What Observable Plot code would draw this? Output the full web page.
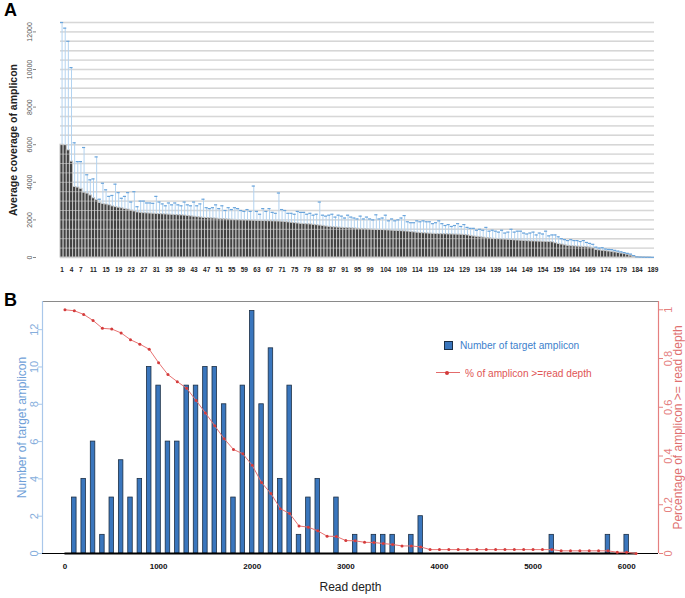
<!DOCTYPE html>
<html><head><meta charset="utf-8">
<script src="https://cdn.jsdelivr.net/npm/d3@7"></script>
<script src="https://cdn.jsdelivr.net/npm/@observablehq/plot@0.6"></script>
<style>
body{margin:0;background:#fff;font-family:"Liberation Sans",Arial,sans-serif;}
#wrap{position:relative;width:685px;height:598px;overflow:hidden;background:#fff;}
#a,#b1,#b2{position:absolute;left:0;}
#a{top:0;} #b1,#b2{top:280px;}
.lbl{position:absolute;font-weight:bold;font-size:18px;font-family:"Liberation Sans",Arial,sans-serif;}
.leg{position:absolute;font-family:"Liberation Sans",Arial,sans-serif;font-size:11.5px;white-space:nowrap;line-height:14px;transform:scaleX(0.88);transform-origin:0 50%;}
</style></head><body>
<div id="wrap">
  <div id="a"></div><div id="b1"></div><div id="b2"></div>
  <div class="lbl" style="left:4px;top:0px">A</div>
  <div class="lbl" style="left:4px;top:290px">B</div>
  <div style="position:absolute;left:444px;top:341px;width:7px;height:7px;background:#3a76bd;border:1px solid #1c2f45"></div>
  <div class="leg" style="left:460px;top:338px;color:#3d7fcc">Number of target amplicon</div>
  <div style="position:absolute;left:436px;top:372px;width:24px;height:1px;background:#e36b6b"></div>
  <div style="position:absolute;left:445px;top:370.5px;width:4px;height:4px;border-radius:50%;background:#d33b3b"></div>
  <div class="leg" style="left:465px;top:366px;color:#e05555">% of amplicon &gt;=read depth</div>
</div>
<script>
// ---------- Panel A data ----------
const ampliconRank = d3.range(1, 190);
const meanCoverage = [
  6000, 5980, 5700, 5100, 3750, 3720, 3650, 3450, 3400, 3300,
  3150, 3050, 2900, 2850, 2820, 2780, 2720, 2680, 2650, 2620,
  2580, 2550, 2500, 2450, 2400, 2380, 2360, 2350, 2340, 2330,
  2320, 2310, 2300, 2290, 2280, 2270, 2260, 2250, 2240, 2230,
  2210, 2190, 2170, 2150, 2130, 2110, 2100, 2090, 2080, 2070,
  2050, 2040, 2030, 2020, 2010, 2000, 1990, 1980, 1975, 1970,
  1965, 1960, 1950, 1945, 1940, 1935, 1930, 1925, 1920, 1915,
  1905, 1890, 1870, 1850, 1830, 1810, 1790, 1780, 1770, 1760,
  1740, 1720, 1700, 1680, 1650, 1630, 1610, 1600, 1590, 1580,
  1570, 1560, 1550, 1540, 1530, 1520, 1510, 1500, 1490, 1480,
  1470, 1465, 1460, 1450, 1440, 1430, 1420, 1410, 1400, 1390,
  1380, 1360, 1340, 1320, 1300, 1290, 1280, 1270, 1260, 1250,
  1245, 1240, 1235, 1230, 1225, 1220, 1215, 1210, 1200, 1180,
  1150, 1120, 1100, 1080, 1060, 1040, 1020, 1000, 990, 980,
  965, 955, 945, 930, 915, 905, 895, 885, 870, 860,
  855, 850, 845, 840, 835, 830, 810, 760, 720, 690,
  650, 620, 600, 590, 580, 570, 560, 550, 530, 500,
  400, 380, 360, 340, 320, 300, 270, 240, 210, 180,
  150, 100, 50, 10, 5, 3, 2, 1, 0
];
const errorTop = [
  12500, 12200, 11500, 10100, 6100, 5100, 5100, 5850, 4400, 4130,
  4180, 5350, 3100, 3950, 3600, 3250, 3300, 3900, 3450, 3150,
  3250, 3450, 2950, 3500, 2700, 3000, 3000, 2900, 2900, 2880,
  3250, 2950, 2850, 2750, 2900, 2800, 2900, 2800, 2750, 2950,
  2800, 2750, 2950, 2750, 2850, 3100, 2650, 2600, 2650, 2800,
  2600, 2750, 2500, 2650, 2550, 2650, 2600, 2500, 2450, 2550,
  2450, 3800, 2450, 2300, 2600, 2450, 2600, 2400, 2350, 3430,
  2550, 2500, 2350, 2350, 2300, 2450, 2400, 2400, 2300, 2350,
  2250, 2300, 2950, 2250, 2200, 2250, 2300, 2150, 2250, 2200,
  2100, 2250, 2150, 2100, 2050, 2200, 2050, 2150, 2050, 2000,
  2270, 2050, 2100, 2250, 1950, 2050, 1950, 2000, 2100, 2230,
  1900, 1850, 1850, 1950, 1900, 1950, 1900, 1900, 1800, 1850,
  1950, 1800, 1700, 1750, 1650, 1700, 1800, 1650, 1750, 1600,
  1550, 1550, 1450, 1500, 1450, 1600, 1400, 1450, 1400, 1350,
  1450, 1300, 1350, 1500, 1350, 1400, 1400, 1300, 1250, 1300,
  1350, 1200, 1300, 1250, 1400, 1150, 1200, 1200, 1100, 1000,
  950, 900, 950, 900, 900, 850, 900, 800, 750, 700,
  550, 500, 520, 450, 430, 420, 380, 340, 300, 260,
  220, 180, 100, 30, 20, 15, 10, 10, 10
];
const rankTickLabels = [1,4,7,11,15,19,23,27,31,35,39,43,47,51,55,59,63,67,71,75,79,83,87,91,95,99,104,109,114,119,124,129,134,139,144,149,154,159,164,169,174,179,184,189];
const coverageTicks = [0,2000,4000,6000,8000,10000,12000];
const gridLevels = [0,500,1000,1500,2000,2500,3000,3500,4000,4500,5000,5500,6000,6500,7000,7500,8000,8500,9000,9500,10000,10500,11000,11500,12000,12500];
const titleA = "Average coverage of amplicon";

// ---------- Panel B data ----------
const depthBins = [100,200,300,400,500,600,700,800,900,1000,1100,1200,1300,1400,1500,1600,1700,1800,1900,2000,2100,2200,2300,2400,2500,2600,2700,2900,3100,3300,3400,3500,3700,3800,5200,5800,6000];
const ampliconCounts = [3,4,6,1,3,5,3,4,10,9,6,6,9,9,10,10,8,3,9,13,8,11,4,9,1,3,4,3,1,1,1,1,1,2,1,1,1];
const curveDepths = [0,100,200,300,400,500,600,700,800,900,1000,1100,1200,1300,1400,1500,1600,1700,1800,1900,2000,2100,2200,2300,2400,2500,2600,2700,2800,2900,3000,3100,3200,3300,3400,3500,3600,3700,3800,3900,4000,4100,4200,4300,4400,4500,4600,4700,4800,4900,5000,5100,5200,5300,5400,5500,5600,5700,5800,5900,6000,6100];
const curvePct = [1.0,0.996,0.981,0.956,0.924,0.921,0.905,0.877,0.859,0.838,0.783,0.734,0.705,0.678,0.628,0.577,0.524,0.471,0.427,0.409,0.362,0.291,0.246,0.184,0.164,0.113,0.108,0.093,0.071,0.070,0.053,0.052,0.046,0.045,0.041,0.037,0.031,0.031,0.027,0.016,0.016,0.016,0.016,0.016,0.016,0.016,0.016,0.016,0.016,0.016,0.016,0.016,0.016,0.011,0.011,0.011,0.011,0.011,0.011,0.005,0.005,0.0];
const countTicks = [0,2,4,6,8,10,12];
const pctTicks = [0,0.2,0.4,0.6,0.8,1];
const depthTicks = [0,1000,2000,3000,4000,5000,6000];
const titleBLeft = "Number of target amplicon";
const titleBRight = "Percentage of amplicon >= read depth";
const titleBX = "Read depth";

const rowsA = ampliconRank.map((id, i) => ({id, mean: meanCoverage[i], top: errorTop[i]}));
const rowsB = depthBins.map((depth, i) => ({depth, count: ampliconCounts[i]}));
const rowsL = curveDepths.map((depth, i) => ({depth, pct: curvePct[i]}));

const sans = '"Liberation Sans",Arial,sans-serif';

const A = Plot.plot({
  width: 685, height: 280,
  marginLeft: 60, marginRight: 31, marginTop: 22, marginBottom: 23,
  style: {background: "transparent", fontFamily: sans},
  x: {type: "band", domain: ampliconRank, padding: 0, round: false},
  y: {domain: [0, 12500]},
  marks: [
    Plot.ruleY(gridLevels, {stroke: "#d4d4d4", strokeWidth: 1.4}),
    Plot.barY(rowsA, {x: "id", y: "mean", fill: "#424242", stroke: "#c4c4c4", strokeWidth: 1}),
    Plot.ruleY(gridLevels, {stroke: "#d8d8d8", strokeWidth: 1, strokeOpacity: 0.55}),
    Plot.ruleX(rowsA, {x: "id", y1: "mean", y2: "top", stroke: "#b3d3f0", strokeWidth: 1}),
    Plot.tickY(rowsA, {x: "id", y: "top", stroke: "#6aa5dc", strokeWidth: 1.2}),
    Plot.axisY(coverageTicks, {dx: -24, tickSize: 3, tickPadding: 2, tickRotate: -90, fontSize: 7, fill: "#555", stroke: "#888", tickFormat: "d", label: null}),
    Plot.axisX(rankTickLabels, {tickSize: 0, tickPadding: 10, fontSize: 6.5, fontWeight: "bold", fill: "#222", label: null}),
    Plot.text([titleA], {text: d => d, frameAnchor: "left", textAnchor: "middle", rotate: -90, dx: -47, fontSize: 10.5, fontWeight: "bold", fill: "#222"})
  ]
});
document.getElementById("a").append(A);

const B1 = Plot.plot({
  width: 685, height: 318,
  marginLeft: 42, marginRight: 27, marginTop: 21, marginBottom: 45,
  style: {background: "transparent", fontFamily: sans},
  x: {domain: [-240, 6340]},
  y: {domain: [0, 13.51]},
  marks: [
    Plot.ruleY([13.51], {stroke: "#8a8a8a", strokeWidth: 1.2}),
    Plot.rectY(rowsB, {x1: d => d.depth - 24, x2: d => d.depth + 24, y: "count", fill: "#3a76bd", stroke: "#1c2f45", strokeWidth: 0.8}),
    Plot.ruleY([0], {stroke: "#000", strokeWidth: 1}),
    Plot.ruleY([0], {x1: 0, x2: 6100, stroke: "#000", strokeWidth: 2}),
    Plot.ruleX([-240], {stroke: "#a9c7ea", strokeWidth: 1.2}),
    Plot.axisY(countTicks, {tickSize: 4, tickPadding: 1, tickRotate: -90, fontSize: 11, fill: "#86aedc", stroke: "#a9c7ea", label: null}),
    Plot.axisX(depthTicks, {tickSize: 0, tickPadding: 10, fontSize: 8, fontWeight: "bold", fill: "#111", tickFormat: "d", label: null}),
    Plot.text([titleBLeft], {text: d => d, frameAnchor: "left", textAnchor: "middle", rotate: -90, dx: -20, fontSize: 12, fill: "#6f9fd8"}),
    Plot.text([titleBX], {text: d => d, frameAnchor: "bottom", dy: 37, fontSize: 12, fill: "#222"})
  ]
});
document.getElementById("b1").append(B1);

const B2 = Plot.plot({
  width: 685, height: 318,
  marginLeft: 42, marginRight: 27, marginTop: 21, marginBottom: 45,
  style: {background: "transparent", fontFamily: sans},
  x: {domain: [-240, 6340], axis: null},
  y: {domain: [0, 1.034]},
  marks: [
    Plot.line(rowsL, {x: "depth", y: "pct", stroke: "#e87373", strokeWidth: 1}),
    Plot.dot(rowsL, {x: "depth", y: "pct", r: 1.5, fill: "#d43c3c", stroke: null}),
    Plot.ruleX([6340], {stroke: "#e58080", strokeWidth: 1.2}),
    Plot.axisY(pctTicks, {anchor: "right", tickSize: 4, tickPadding: 9, tickRotate: -90, fontSize: 11, fill: "#e58080", stroke: "#e58080", tickFormat: d => String(d), label: null}),
    Plot.text([titleBRight], {text: d => d, frameAnchor: "right", textAnchor: "middle", rotate: -90, dx: 20, fontSize: 12, fill: "#e07070"})
  ]
});
document.getElementById("b2").append(B2);
</script>
</body></html>
